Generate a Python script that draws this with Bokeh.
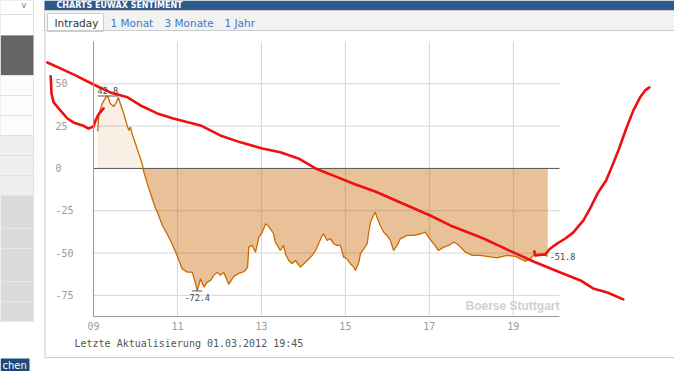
import numpy as np
from bokeh.plotting import figure
from bokeh.models import Label, PolyAnnotation, FixedTicker, LinearAxis, Range1d
from bokeh.embed import file_html
from bokeh.resources import INLINE

# ---------------- data ----------------
hours = [9.10, 9.13, 9.21, 9.29, 9.34, 9.40, 9.48, 9.55, 9.59, 9.64, 9.72, 9.79, 9.84, 9.88, 9.92,
         10.00, 10.08, 10.16, 10.20, 10.28, 10.36, 10.48, 10.52, 10.64, 10.75, 10.87, 10.99,
         11.11, 11.23, 11.35, 11.43, 11.47, 11.55, 11.63, 11.71, 11.79, 11.86, 11.95, 12.02,
         12.10, 12.22, 12.34, 12.46, 12.55, 12.62, 12.67, 12.70, 12.78, 12.86, 12.94, 13.02,
         13.10, 13.17, 13.29, 13.33, 13.45, 13.53, 13.57, 13.65, 13.73, 13.81, 13.93, 14.01,
         14.09, 14.21, 14.29, 14.36, 14.45, 14.48, 14.56, 14.64, 14.72, 14.80, 14.88, 14.96,
         15.04, 15.12, 15.20, 15.24, 15.32, 15.36, 15.44, 15.52, 15.55, 15.60, 15.67, 15.71,
         15.75, 15.83, 15.91, 15.99, 16.07, 16.15, 16.23, 16.31, 16.39, 16.47, 16.63, 16.79,
         16.90, 16.98, 17.10, 17.22, 17.34, 17.46, 17.58, 17.66, 17.74, 17.86, 18.02, 18.21,
         18.37, 18.61, 18.85, 19.05, 19.17, 19.29, 19.40, 19.48, 19.64, 19.76, 19.82]
sentiment = [21.9, 32.5, 38.4, 42.0, 42.8, 38.4, 36.6, 39.2, 42.1, 38.2, 32.3, 26.4, 22.5, 24.4, 20.5,
             14.6, 8.7, 2.8, -2.2, -9.0, -15.0, -23.8, -25.8, -33.7, -38.6, -44.5, -51.4,
             -59.3, -61.3, -61.3, -68.1, -72.4, -65.2, -70.1, -67.2, -66.2, -63.2, -61.3, -63.2,
             -61.3, -68.5, -63.8, -62.0, -61.3, -60.3, -58.3, -46.5, -45.5, -49.5, -40.6, -37.6,
             -32.7, -34.2, -38.6, -43.6, -48.5, -45.5, -50.4, -54.4, -56.3, -54.4, -58.3, -56.3,
             -54.4, -51.4, -48.5, -44.5, -39.6, -38.6, -42.5, -41.5, -44.5, -45.5, -45.5, -52.4,
             -53.4, -56.3, -58.3, -60.3, -55.4, -50.4, -47.5, -44.5, -38.6, -31.7, -27.8, -25.8,
             -28.8, -33.7, -37.6, -39.6, -42.5, -48.5, -45.5, -41.5, -40.6, -39.6, -39.6, -38.6,
             -37.6, -40.6, -44.5, -48.5, -46.5, -45.5, -43.6, -44.5, -46.5, -49.5, -51.4, -51.4,
             -52.0, -52.8, -51.4, -52.0, -53.4, -54.8, -53.4, -51.4, -50.8, -51.4, -51.8]

# red hand-drawn strokes on top of the screenshot
trend_hours = [7.90, 8.21, 8.57, 9.00, 9.40, 9.81, 10.12, 10.52, 10.90, 11.55, 12.02, 12.50, 13.02,
               13.45, 13.88, 14.29, 14.76, 15.24, 15.71, 16.31, 17.02, 17.50, 18.29, 19.00, 19.48,
               20.12, 20.60, 20.90, 21.24, 21.62]
trend_vals = [62.6, 59.1, 55.0, 49.6, 44.9, 42.0, 37.2, 32.5, 29.5, 25.4, 19.5, 15.4, 11.8,
              9.5, 5.9, 0.0, -4.7, -9.5, -13.6, -20.1, -27.8, -33.7, -41.4, -49.6, -55.0,
              -61.5, -66.2, -70.9, -73.3, -77.4]
hook_hours = [7.98, 8.00, 8.05, 8.21, 8.38, 8.52, 8.74, 8.88, 9.00, 9.05, 9.12, 9.24]
hook_vals = [54.4, 44.3, 39.0, 34.3, 29.5, 27.2, 25.4, 23.6, 24.8, 28.4, 31.9, 35.5]
rise_hours = [19.50, 19.52, 19.76, 19.88, 20.05, 20.24, 20.43, 20.67, 20.83, 21.02, 21.21, 21.36,
              21.52, 21.69, 21.86, 22.02, 22.14, 22.24]
rise_vals = [-49.0, -51.4, -50.8, -47.3, -44.3, -41.4, -37.8, -30.7, -23.6, -14.2, -7.1, 1.8,
             11.8, 23.6, 34.3, 42.0, 46.1, 47.9]

x_ticks = [9, 11, 13, 15, 17, 19]
x_tick_labels = ["09", "11", "13", "15", "17", "19"]
y_ticks = [-75, -50, -25, 0, 25, 50]
y_tick_labels = ["-75", "-50", "-25", "0", "25", "50"]
tab_labels = ["Intraday", "1 Monat", "3 Monate", "1 Jahr"]
panel_title = "CHARTS EUWAX SENTIMENT"
update_text = "Letzte Aktualisierung 01.03.2012 19:45"
watermark = "Boerse Stuttgart"

# ---------------- layout ----------------
W, H = 674, 371
CH_X0, CH_X1 = 9.0, 20.1        # chart x extent (hours)
CH_Y0, CH_Y1 = -87.5, 75.0      # chart y extent
CH_L, CH_T, CH_W, CH_H = 93, 41, 466, 275   # chart area in pixels
PXH = CH_W / (CH_X1 - CH_X0)
PXV = CH_H / (CH_Y1 - CH_Y0)
XS, XE = CH_X0 - CH_L / PXH, CH_X0 + (W - CH_L) / PXH
YE, YS = CH_Y1 + CH_T / PXV, CH_Y0 - (H - CH_T - CH_H) / PXV
MONO = "DejaVu Sans Mono"
RED = "#f01010"
GRID = "#d6d6d6"

p = figure(width=W, height=H, x_range=Range1d(XS, XE), y_range=Range1d(YS, YE),
           output_backend="svg", toolbar_location=None,
           x_axis_location=None, y_axis_location=None,
           min_border=0, min_border_left=0, min_border_right=0,
           min_border_top=0, min_border_bottom=0)
p.outline_line_color = None
p.background_fill_color = "white"
p.border_fill_color = "white"
p.xgrid.visible = False
p.ygrid.visible = False


def at(px, py):
    """page pixel -> data coordinates (for decorations only)"""
    return XS + px / PXH, YE - py / PXV


def rect(l, t, r, b, fill, line=None):
    x0, y0 = at(l, t)
    x1, y1 = at(r, b)
    p.add_layout(PolyAnnotation(xs=[x0, x1, x1, x0], ys=[y0, y0, y1, y1],
                                fill_color=fill, fill_alpha=1.0,
                                line_color=line, line_alpha=1.0, line_width=1,
                                level="underlay"))


def label(px, py, text, size, color, font="DejaVu Sans", align="left", style="normal"):
    x, y = at(px, py)
    p.add_layout(Label(x=x, y=y, text=text, text_font=font, text_font_size=size,
                       text_color=color, text_align=align, text_baseline="middle",
                       text_font_style=style))


# grid lines limited to the chart area
gx = x_ticks[1:]
gy = [t for t in y_ticks if t != 0]
p.segment(x0=gx, y0=[CH_Y0] * len(gx), x1=gx, y1=[CH_Y1] * len(gx), line_color=GRID, line_width=1)
p.segment(x0=[CH_X0] * len(gy), y0=gy, x1=[CH_X1] * len(gy), y1=gy, line_color=GRID, line_width=1)

# areas and line
s = np.array(sentiment)
p.varea(x=hours, y1=0, y2=np.maximum(s, 0), fill_color="#C86400", fill_alpha=0.10)
p.varea(x=hours, y1=0, y2=np.minimum(s, 0), fill_color="#C86400", fill_alpha=0.40)
p.segment(x0=[CH_X0], y0=[0], x1=[CH_X1], y1=[0], line_color="#555555", line_width=1)
p.line(hours, sentiment, line_color="#CC6A00", line_width=1.3)

# axes (fixed at the chart edges)
xax = LinearAxis(fixed_location=CH_Y0, bounds=(CH_X0, CH_X1), ticker=FixedTicker(ticks=x_ticks),
                 major_label_overrides=dict(zip(x_ticks, x_tick_labels)))
yax = LinearAxis(fixed_location=CH_X0, bounds=(CH_Y0, CH_Y1), ticker=FixedTicker(ticks=y_ticks),
                 major_label_overrides={t: (l + "\u00a0" * (3 - len(l)))
                                        for t, l in zip(y_ticks, y_tick_labels)})
for ax in (xax, yax):
    ax.axis_line_color = "#9a9a9a"
    ax.axis_line_width = 1
    ax.major_tick_line_color = None
    ax.minor_tick_line_color = None
    ax.major_tick_out = 0
    ax.major_tick_in = 0
    ax.major_label_text_font = MONO
    ax.major_label_text_font_size = "10px"
    ax.major_label_text_color = "#9a9a9a"
xax.major_label_standoff = 5
yax.major_label_standoff = 20
p.add_layout(xax, "below")
p.add_layout(yax, "left")

# extreme / last value labels
imax, imin = int(np.argmax(s)), int(np.argmin(s))
p.scatter([hours[imax]], [s[imax]], marker="dash", size=20, line_color="#555555", line_width=1)
p.scatter([hours[imin]], [s[imin]], marker="dash", size=10, line_color="#555555", line_width=1)
p.add_layout(Label(x=hours[imax], y=s[imax], text=f"{s[imax]:.1f}", text_font=MONO,
                   text_font_size="8.5px", text_color="#444444", text_align="center",
                   text_baseline="middle", y_offset=5))
p.add_layout(Label(x=hours[imin], y=s[imin], text=f"{s[imin]:.1f}", text_font=MONO,
                   text_font_size="8.5px", text_color="#444444", text_align="center",
                   text_baseline="middle", y_offset=-7))
p.add_layout(Label(x=hours[-1], y=s[-1], text=f"{s[-1]:.1f}", text_font=MONO,
                   text_font_size="8.5px", text_color="#444444", text_align="left",
                   text_baseline="middle", x_offset=2))

# ---------------- page decorations ----------------
rect(44, 0, 700, 10, "#2c5a8c")
label(56, 5, panel_title, "8px", "#ffffff", style="bold")
rect(44, 10, 700, 30, "#f2f2f2", "#cccccc")
rect(47, 13, 103, 31, "#ffffff", "#cccccc")
tab_x = [54, 110, 164, 224]
for i, (tx, tl) in enumerate(zip(tab_x, tab_labels)):
    label(tx, 22, tl, "10.5px", "#333333" if i == 0 else "#3f78c4")
# panel border
bx0, by0 = at(44.5, 30)
bx1, by1 = at(700, 357)
p.add_layout(PolyAnnotation(xs=[bx0, bx0, bx1, bx1], ys=[by0, by1, by1, by0], fill_alpha=0.0,
                            line_color="#cccccc", line_alpha=1.0, line_width=1, level="underlay"))
# sidebar
rect(0, 0, 33, 14, "#ffffff", "#dddddd")
label(21, 5, "v", "8px", "#777777")
rect(0, 14, 33, 35, "#ffffff", "#dddddd")
rect(0, 35, 33, 75, "#656565")
for t in (75, 95, 115):
    rect(0, t, 33, t + 20, "#fcfcfc", "#e2e2e2")
for t in (135, 155, 175):
    rect(0, t, 33, t + 20, "#efefef", "#e0e0e0")
for t, b in ((195, 228), (228, 248), (248, 281), (281, 301), (301, 321)):
    rect(0, t, 33, b, "#dadada", "#e6e6e6")
rect(0, 358, 29, 371, "#1e4b7c")
label(2, 364.5, "chen", "10px", "#ffffff")

label(74, 343, update_text, "10px", "#555555", font=MONO)
label(559, 305, watermark, "12px", "#d0d0d0", font="Liberation Sans", align="right", style="bold")

# red strokes
for xs_, ys_ in ((trend_hours, trend_vals), (hook_hours, hook_vals), (rise_hours, rise_vals)):
    p.line(xs_, ys_, line_color=RED, line_width=2.6, line_join="round", line_cap="round")

open("out.html", "w").write(file_html(p, INLINE))
